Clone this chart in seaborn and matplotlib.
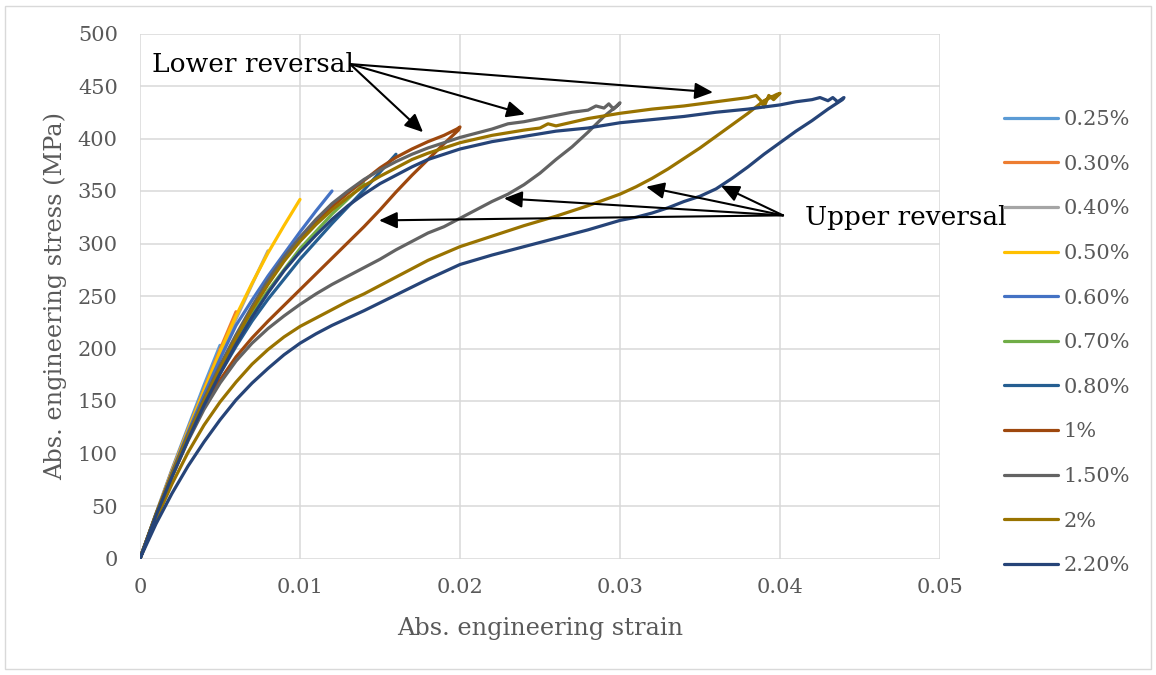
import numpy as np
import pandas as pd
import matplotlib
matplotlib.use("Agg")
import matplotlib.pyplot as plt
from matplotlib.patches import Rectangle
from matplotlib.ticker import FuncFormatter
import seaborn as sns

# ---- series labels and colours ----
series_labels = ["0.25%", "0.30%", "0.40%", "0.50%", "0.60%", "0.70%",
                 "0.80%", "1%", "1.50%", "2%", "2.20%"]
series_colors = ["#5B9BD5", "#ED7D31", "#A5A5A5", "#FFC000", "#4472C4", "#70AD47",
                 "#255E91", "#9E480E", "#636363", "#997300", "#264478"]

# ---- stress-strain data (strain [-], stress [MPa]) ----
strain_025 = [0, 0.001, 0.002, 0.003, 0.004, 0.005]
stress_025 = [0, 43, 85, 125, 165, 203]

strain_030 = [0, 0.001, 0.002, 0.003, 0.004, 0.005, 0.006]
stress_030 = [0, 42, 84, 123, 161, 199, 235]

strain_040 = [0, 0.001, 0.002, 0.003, 0.004, 0.005, 0.006, 0.007, 0.008]
stress_040 = [0, 42, 83, 122, 159, 194, 228, 261, 293]

strain_050 = [0, 0.001, 0.002, 0.003, 0.004, 0.005, 0.006, 0.007, 0.008, 0.009, 0.010]
stress_050 = [0, 42, 83, 122, 160, 197, 231, 262, 291, 317, 342]

strain_060 = [0, 0.001, 0.002, 0.003, 0.004, 0.005, 0.006, 0.007, 0.008, 0.009, 0.010, 0.011, 0.012]
stress_060 = [0, 41, 82, 120, 156, 190, 222, 246, 269, 290, 311, 331, 350]

strain_070 = [0, 0.001, 0.002, 0.003, 0.004, 0.005, 0.006, 0.007, 0.008, 0.010, 0.012, 0.014]
stress_070 = [0, 41, 80, 116, 150, 180, 208, 233, 255, 295, 328, 357]

strain_080 = [0, 0.001, 0.002, 0.003, 0.004, 0.005, 0.006, 0.007, 0.008, 0.010, 0.012, 0.014, 0.016]
stress_080 = [0, 41, 79, 114, 147, 176, 202, 226, 247, 285, 319, 351, 385]

# loops: upper branch out to the reversal point, lower branch back to the origin
strain_100_up = [0, 0.001, 0.002, 0.003, 0.004, 0.005, 0.006, 0.007, 0.008, 0.009, 0.010, 0.011,
                 0.012, 0.013, 0.014, 0.015, 0.016, 0.017, 0.018, 0.019, 0.0198, 0.020]
stress_100_up = [0, 42, 81, 117, 151, 182, 211, 238, 262, 284, 303, 320,
                 335, 348, 360, 372, 382, 390, 397, 403, 409, 411]
strain_100_lo = [0.0199, 0.019, 0.018, 0.017, 0.016, 0.015, 0.014, 0.013, 0.012, 0.011, 0.010,
                 0.009, 0.008, 0.007, 0.006, 0.005, 0.004, 0.003, 0.002, 0.001, 0]
stress_100_lo = [408, 395, 380, 365, 349, 332, 316, 301, 286, 271, 256,
                 241, 226, 210, 192, 170, 144, 113, 78, 40, 0]

strain_150_up = [0, 0.001, 0.002, 0.003, 0.004, 0.005, 0.006, 0.007, 0.008, 0.009, 0.010, 0.011,
                 0.012, 0.013, 0.014, 0.015, 0.016, 0.017, 0.018, 0.019, 0.020, 0.021, 0.022, 0.023,
                 0.024, 0.025, 0.026, 0.027, 0.028, 0.0285, 0.029, 0.0293, 0.0296, 0.030]
stress_150_up = [0, 42, 81, 118, 152, 184, 213, 240, 265, 287, 306, 323,
                 338, 350, 361, 370, 378, 385, 391, 396, 401, 405, 409, 414,
                 416, 419, 422, 425, 427, 431, 429, 433, 428, 434]
strain_150_lo = [0.0298, 0.029, 0.028, 0.027, 0.026, 0.025, 0.024, 0.023, 0.022, 0.021, 0.020,
                 0.019, 0.018, 0.017, 0.016, 0.015, 0.014, 0.013, 0.012, 0.011, 0.010, 0.009,
                 0.008, 0.007, 0.006, 0.005, 0.004, 0.003, 0.002, 0.001, 0]
stress_150_lo = [431, 421, 406, 392, 380, 367, 356, 347, 340, 332, 324,
                 316, 310, 302, 294, 285, 277, 269, 261, 252, 242, 231,
                 219, 205, 188, 167, 142, 112, 78, 40, 0]

strain_200_up = [0, 0.001, 0.002, 0.003, 0.004, 0.005, 0.006, 0.007, 0.008, 0.009, 0.010, 0.011,
                 0.012, 0.013, 0.014, 0.015, 0.016, 0.017, 0.018, 0.019, 0.020, 0.022, 0.024,
                 0.025, 0.0255, 0.026, 0.028, 0.030, 0.032, 0.034, 0.036, 0.037, 0.038, 0.0385,
                 0.0388, 0.039, 0.0393, 0.0396, 0.040]
stress_200_up = [0, 42, 80, 116, 150, 181, 210, 237, 261, 283, 302, 318,
                 332, 344, 355, 364, 372, 380, 386, 391, 396, 403, 408,
                 410, 414, 412, 419, 424, 428, 431, 435, 437, 439, 441,
                 436, 430, 441, 437, 443]
strain_200_lo = [0.0398, 0.039, 0.038, 0.037, 0.036, 0.035, 0.034, 0.033, 0.032, 0.031, 0.030,
                 0.028, 0.026, 0.024, 0.022, 0.020, 0.018, 0.016, 0.014, 0.013, 0.012, 0.011,
                 0.010, 0.009, 0.008, 0.007, 0.006, 0.005, 0.004, 0.003, 0.002, 0.001, 0]
stress_200_lo = [442, 436, 424, 413, 402, 391, 381, 371, 362, 354, 347,
                 336, 326, 317, 307, 297, 284, 268, 252, 245, 237, 229,
                 221, 211, 199, 185, 168, 149, 127, 101, 71, 37, 0]

strain_220_up = [0, 0.001, 0.002, 0.003, 0.004, 0.005, 0.006, 0.007, 0.008, 0.009, 0.010, 0.011,
                 0.012, 0.013, 0.014, 0.015, 0.016, 0.017, 0.018, 0.019, 0.020, 0.022, 0.024,
                 0.026, 0.028, 0.030, 0.032, 0.034, 0.036, 0.038, 0.040, 0.041, 0.042, 0.0425,
                 0.043, 0.0433, 0.0436, 0.044]
stress_220_up = [0, 41, 78, 113, 146, 176, 204, 230, 253, 274, 292, 308,
                 323, 336, 347, 357, 365, 373, 380, 385, 390, 397, 402,
                 407, 410, 415, 418, 421, 425, 428, 432, 435, 437, 439,
                 436, 439, 435, 439]
strain_220_lo = [0.0439, 0.043, 0.042, 0.041, 0.040, 0.039, 0.038, 0.037, 0.036, 0.035, 0.034,
                 0.033, 0.032, 0.031, 0.030, 0.028, 0.026, 0.024, 0.022, 0.020, 0.018, 0.016,
                 0.014, 0.013, 0.012, 0.011, 0.010, 0.009, 0.008, 0.007, 0.006, 0.005, 0.004,
                 0.003, 0.002, 0.001, 0]
stress_220_lo = [437, 428, 417, 407, 396, 385, 373, 362, 352, 345, 340,
                 334, 329, 325, 322, 313, 305, 297, 289, 280, 266, 251,
                 236, 229, 222, 214, 205, 194, 181, 167, 151, 132, 111,
                 88, 62, 33, 0]

strain_sets = [strain_025, strain_030, strain_040, strain_050, strain_060, strain_070, strain_080,
               strain_100_up + strain_100_lo, strain_150_up + strain_150_lo,
               strain_200_up + strain_200_lo, strain_220_up + strain_220_lo]
stress_sets = [stress_025, stress_030, stress_040, stress_050, stress_060, stress_070, stress_080,
               stress_100_up + stress_100_lo, stress_150_up + stress_150_lo,
               stress_200_up + stress_200_lo, stress_220_up + stress_220_lo]

frames = [pd.DataFrame({"strain": e, "stress": s, "series": lab})
          for lab, e, s in zip(series_labels, strain_sets, stress_sets)]
df = pd.concat(frames, ignore_index=True)

# ---- styling ----
sns.set_theme(style="white")
plt.rcParams["font.family"] = ["DejaVu Serif"]
label_grey = "#595959"

fig = plt.figure(figsize=(11.56, 6.75), dpi=100)
W, H = 1156, 675
ax = fig.add_axes([140 / W, 1 - 558.5 / H, 800 / W, 525 / H])

sns.lineplot(data=df, x="strain", y="stress", hue="series", hue_order=series_labels,
             palette=dict(zip(series_labels, series_colors)), sort=False, estimator=None,
             linewidth=2.3, ax=ax, legend="full")
for ln in ax.lines:
    ln.set_solid_joinstyle("round")
    ln.set_solid_capstyle("round")

ax.set_xlim(0, 0.05)
ax.set_ylim(0, 500)
ax.set_xticks(np.linspace(0, 0.05, 6))
ax.set_yticks(np.arange(0, 501, 50))
ax.xaxis.set_major_formatter(FuncFormatter(lambda v, p: f"{v:g}"))
ax.grid(True, color="#D9D9D9", linewidth=1.1)
ax.set_axisbelow(True)
for sp in ax.spines.values():
    sp.set_visible(False)
ax.tick_params(axis="both", length=0, labelsize=15, labelcolor=label_grey)
ax.tick_params(axis="x", pad=14)
ax.tick_params(axis="y", pad=16)

ax.set_xlabel("Abs. engineering strain", fontsize=17.3, color=label_grey, va="center")
ax.set_ylabel("Abs. engineering stress (MPa)", fontsize=17.3, color=label_grey, va="center")
ax.xaxis.set_label_coords(0.5, (558.5 - 629) / 525)
ax.yaxis.set_label_coords((55 - 140) / 800, 0.5)

# ---- legend on the right ----
handles, labels = ax.get_legend_handles_labels()
ax.get_legend().remove()
fig.legend(handles, labels, loc="upper left", bbox_to_anchor=(1004 / W, 1 - 110 / H),
           frameon=False, fontsize=15, labelcolor=label_grey, handlelength=2.6,
           handletextpad=0.25, labelspacing=1.23, borderpad=0, borderaxespad=0)

# ---- reversal annotations ----
arrow_kw = dict(arrowstyle="-|>,head_length=0.55,head_width=0.25", color="black",
                lw=1.5, mutation_scale=20, shrinkA=0, shrinkB=0)
lower_origin = (0.013125, 470.9)
lower_tips = [(0.01769, 406), (0.02406, 423), (0.03581, 444)]
upper_origin = (0.04019, 326.8)
upper_tips = [(0.01494, 322), (0.02275, 343), (0.03163, 354), (0.03631, 355)]
for tip in lower_tips:
    ax.annotate("", xy=tip, xytext=lower_origin, arrowprops=arrow_kw)
for tip in upper_tips:
    ax.annotate("", xy=tip, xytext=upper_origin, arrowprops=arrow_kw)
ax.text(0.00075, 470, "Lower reversal", fontsize=19, color="black", va="center", ha="left")
ax.text(0.04156, 325, "Upper reversal", fontsize=19, color="black", va="center", ha="left",
        clip_on=False)

# chart-area border
fig.patches.append(Rectangle((5 / W, 6 / H), 1146 / W, 663 / H, transform=fig.transFigure,
                             fill=False, edgecolor="#D9D9D9", linewidth=1))

fig.savefig("out.png", dpi=100)
